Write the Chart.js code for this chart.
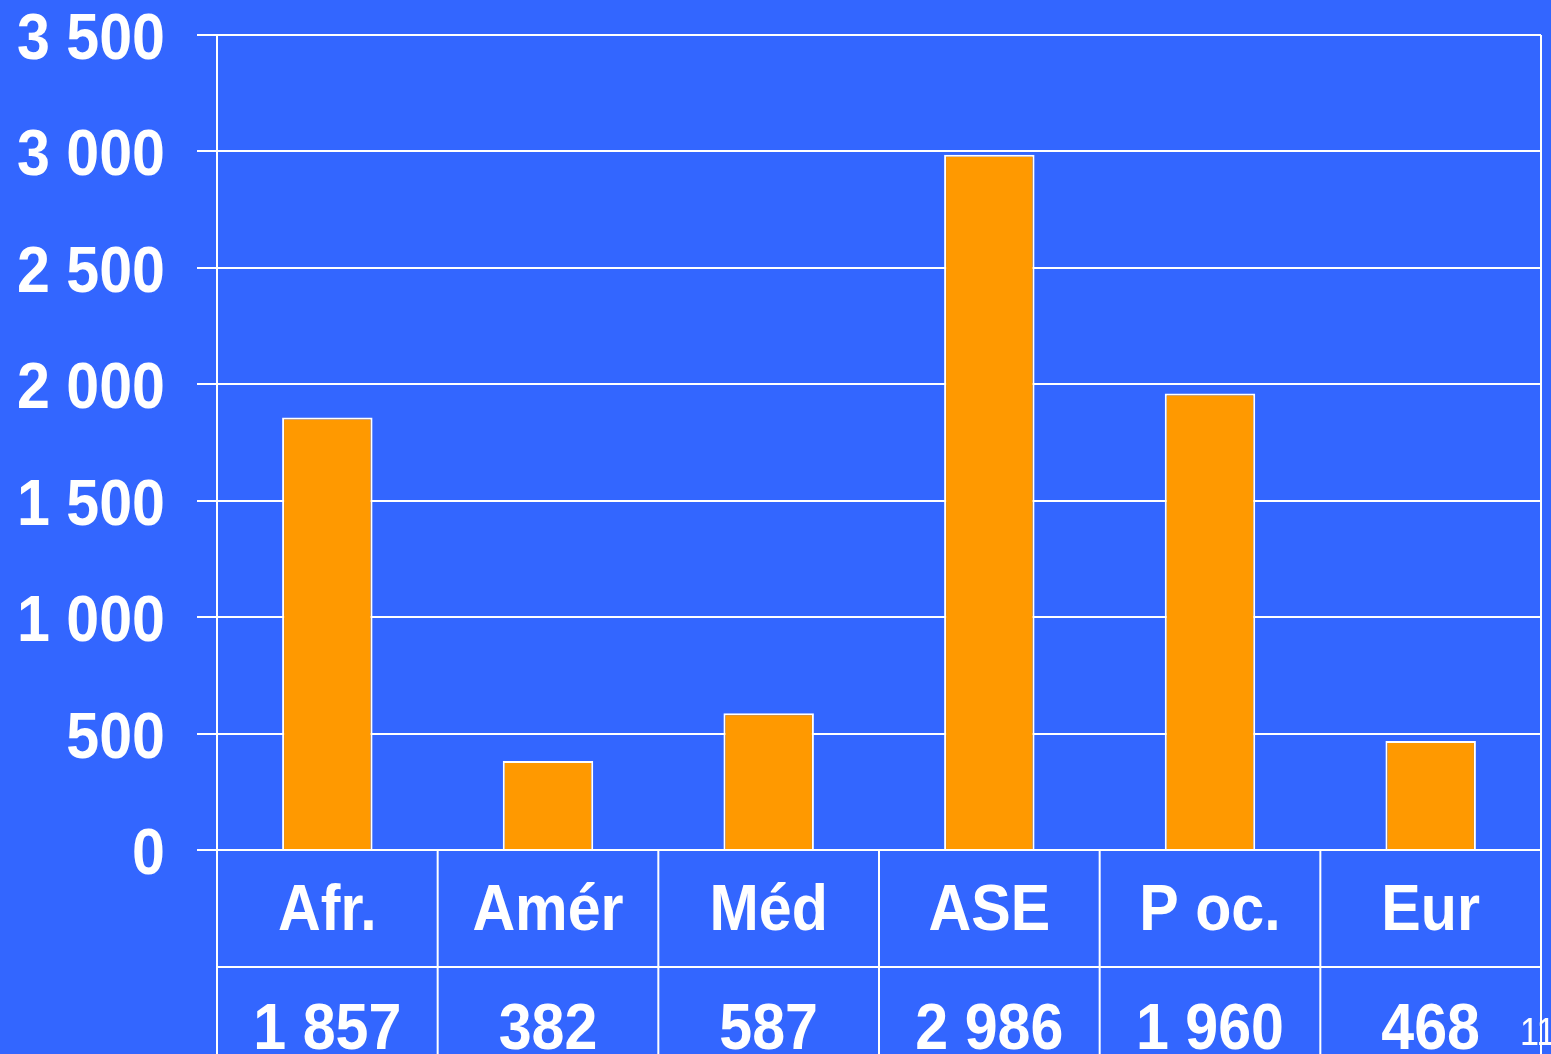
<!DOCTYPE html>
<html>
<head>
<meta charset="utf-8">
<script src="https://cdn.jsdelivr.net/npm/chart.js@4/dist/chart.umd.min.js"></script>
<style>
  html, body { margin: 0; padding: 0; background: #3366ff; overflow: hidden; }
  canvas { display: block; }
</style>
</head>
<body>
<canvas id="chart" width="1551" height="1054"></canvas>
<script>
const categories = ['Afr.', 'Amér', 'Méd', 'ASE', 'P oc.', 'Eur'];
const values = [1857, 382, 587, 2986, 1960, 468];
const yTicks = [0, 500, 1000, 1500, 2000, 2500, 3000, 3500];
const slideNumber = '11';

const fmt = n => String(n).replace(/\B(?=(\d{3})+(?!\d))/g, ' ');

// texte un peu condensé comme dans l'original
function drawText(ctx, s, x, y, size, weight, align, sx) {
    ctx.save();
    ctx.translate(x, y);
    ctx.scale(sx, 1);
    ctx.font = weight + ' ' + size + 'px "Liberation Sans", Arial, sans-serif';
    ctx.fillStyle = '#ffffff';
    ctx.textAlign = align;
    ctx.textBaseline = 'alphabetic';
    ctx.fillText(s, 0, 0);
    ctx.restore();
}

const tablePlugin = {
    id: 'tablePlugin',
    afterDraw(chart) {
        const ctx = chart.ctx;
        const area = chart.chartArea;
        const x = chart.scales.x;
        const y = chart.scales.y;
        const H = chart.height;
        const step = (area.right - area.left) / categories.length;
        const rowLine = area.bottom + 117;

        // libellés de l'axe Y
        yTicks.forEach(v => {
            drawText(ctx, fmt(v), 165, y.getPixelForValue(v) + 24, 65, 'bold', 'right', 0.91);
        });

        // numéro de diapo
        drawText(ctx, slideNumber, 1520, 1045, 38, 'normal', 'left', 0.9);

        // lignes du tableau
        ctx.save();
        ctx.strokeStyle = '#ffffff';
        ctx.lineWidth = 2;
        ctx.beginPath();
        ctx.moveTo(area.left, area.top);
        ctx.lineTo(area.left, H);
        ctx.moveTo(area.right, area.top);
        ctx.lineTo(area.right, H);
        for (let i = 1; i < categories.length; i++) {
            const px = x.getPixelForValue(i) - step / 2;
            ctx.moveTo(px, area.bottom);
            ctx.lineTo(px, H);
        }
        ctx.moveTo(area.left, rowLine);
        ctx.lineTo(area.right, rowLine);
        ctx.stroke();
        ctx.restore();

        // contenu du tableau
        categories.forEach((c, i) => {
            const cx = x.getPixelForValue(i);
            drawText(ctx, c, cx, area.bottom + 80, 65, 'bold', 'center', 0.91);
            drawText(ctx, fmt(values[i]), cx, rowLine + 82, 65, 'bold', 'center', 0.91);
        });
    }
};

new Chart(document.getElementById('chart').getContext('2d'), {
    type: 'bar',
    data: {
        labels: categories,
        datasets: [{
            data: values,
            backgroundColor: '#ff9900',
            borderColor: '#ffffff',
            borderWidth: 2,
            categoryPercentage: 1,
            barPercentage: 0.41
        }]
    },
    options: {
        responsive: false,
        animation: false,
        layout: { padding: { top: 35, bottom: 204, left: 0, right: 10 } },
        plugins: {
            legend: { display: false },
            tooltip: { enabled: false }
        },
        scales: {
            x: { display: false },
            y: {
                min: 0,
                max: 3500,
                afterFit: s => { s.width = 217; },
                ticks: { stepSize: 500, display: false },
                grid: { color: '#ffffff', lineWidth: 2, tickLength: 20, drawTicks: true },
                border: { display: false }
            }
        }
    },
    plugins: [tablePlugin]
});
</script>
</body>
</html>
